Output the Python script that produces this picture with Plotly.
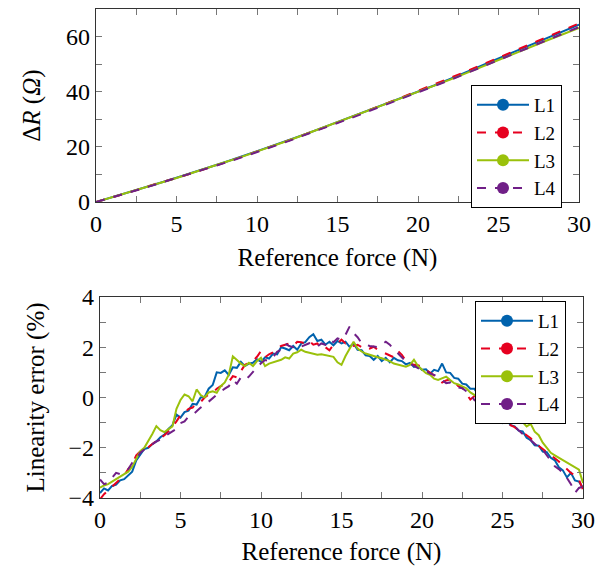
import plotly.graph_objects as go
import numpy as np

# top panel: delta R (Ohm) read every 1 N
force_top = list(range(0, 31))
dR_L1 = [0.0, 1.7, 3.5, 5.2, 7.0, 8.8, 10.6, 12.5, 14.4, 16.4,
         18.4, 20.4, 22.5, 24.6, 26.8, 29.0, 31.2, 33.4, 35.6, 37.8,
         40.0, 42.3, 44.7, 47.1, 49.6, 52.1, 54.6, 57.1, 59.6, 62.0, 64.4]
dR_L2 = [0.0, 1.6, 3.4, 5.2, 7.1, 8.7, 10.5, 12.5, 14.3, 16.3,
         18.3, 20.5, 22.4, 24.6, 26.6, 28.8, 31.1, 33.5, 35.7, 38.0,
         40.3, 42.6, 45.0, 47.4, 49.9, 52.4, 54.9, 57.4, 59.9, 62.4, 64.8]
dR_L3 = [0.0, 1.7, 3.5, 5.2, 7.0, 8.7, 10.6, 12.4, 14.4, 16.3,
         18.3, 20.4, 22.4, 24.6, 26.8, 28.9, 31.1, 33.3, 35.5, 37.6,
         39.8, 42.1, 44.4, 46.8, 49.2, 51.6, 54.0, 56.3, 58.6, 60.9, 63.2]
dR_L4 = [0.0, 1.6, 3.4, 5.1, 6.9, 8.6, 10.5, 12.3, 14.2, 16.1,
         18.1, 20.2, 22.2, 24.4, 26.5, 28.6, 30.8, 33.1, 35.3, 37.5,
         39.7, 42.0, 44.3, 46.7, 49.1, 51.6, 54.0, 56.5, 58.9, 61.2, 63.5]

# bottom panel: linearity error (%) read every 0.25 N
err_L1 = [-3.80, -3.62, -3.70, -3.52, -3.47, -3.30, -3.25, -3.08, -2.95, -2.50,
          -2.25, -2.05, -2.00, -1.85, -1.75, -1.58, -1.48, -1.25, -1.10, -0.68,
          -0.80, -0.58, -0.52, -0.25, -0.28, 0.00, 0.02, 0.35, 0.50, 1.00,
          0.98, 1.08, 0.90, 1.20, 1.18, 1.42, 1.25, 1.35, 1.38, 1.52,
          1.42, 1.60, 1.55, 1.75, 1.72, 2.00, 1.95, 1.88, 2.05, 1.90,
          2.15, 2.20, 2.40, 2.52, 2.25, 2.30, 2.10, 2.22, 2.08, 2.25,
          2.15, 2.22, 2.02, 2.15, 1.90, 1.88, 1.68, 1.65, 1.50, 1.65,
          1.45, 1.58, 1.40, 1.58, 1.48, 1.45, 1.32, 1.38, 1.22, 1.25,
          1.10, 1.12, 0.95, 1.10, 1.05, 1.35, 1.00, 0.98, 0.78, 0.75,
          0.55, 0.52, 0.35, 0.35, 0.10, 0.10, -0.12, -0.30, -0.75, -0.95,
          -1.02, -0.85, -1.10, -1.15, -1.32, -1.35, -1.60, -1.70, -1.90, -1.92,
          -2.15, -2.18, -2.40, -2.50, -2.78, -2.90, -3.18, -3.00, -3.30, -3.35,
          -3.60]
err_L2 = [-4.05, -3.85, -3.70, -3.55, -3.40, -3.25, -3.10, -2.85, -2.65, -2.30,
          -2.15, -2.05, -1.98, -1.85, -1.75, -1.62, -1.50, -1.35, -1.15, -0.95,
          -0.70, -0.62, -0.45, -0.40, -0.22, -0.18, 0.00, 0.12, 0.18, 0.35,
          0.45, 0.55, 0.62, 0.85, 0.80, 1.05, 1.30, 1.38, 1.45, 1.62,
          1.85, 1.60, 1.72, 1.80, 1.95, 2.05, 2.10, 2.15, 2.05, 2.22,
          2.20, 2.15, 2.25, 2.10, 2.15, 1.95, 2.00, 1.88, 2.10, 2.15,
          2.30, 2.15, 2.20, 2.05, 2.10, 2.00, 2.05, 1.95, 2.02, 1.90,
          1.82, 1.75, 1.65, 1.60, 1.85, 1.70, 1.45, 1.38, 1.30, 1.28,
          1.22, 1.10, 1.00, 0.88, 0.75, 0.60, 0.68, 0.72, 0.65, 0.45,
          0.40, 0.15, -0.08, 0.05, -0.02, -0.10, -0.25, -0.40, -0.55, -0.65,
          -0.80, -0.95, -1.10, -1.18, -1.30, -1.38, -1.50, -1.62, -1.80, -1.92,
          -2.05, -2.15, -2.30, -2.42, -2.55, -2.70, -2.88, -3.00, -3.10, -3.28,
          -3.67]
err_L3 = [-3.59, -3.50, -3.45, -3.35, -3.26, -3.15, -3.05, -2.95, -2.75, -2.45,
          -2.13, -2.00, -1.75, -1.45, -1.14, -1.30, -1.38, -1.25, -1.15, -0.45,
          -0.10, 0.12, 0.05, -0.15, 0.32, 0.10, 0.00, 0.20, 0.25, 0.19,
          0.45, 0.60, 0.91, 1.64, 1.50, 1.35, 1.25, 1.38, 1.25, 1.45,
          1.58, 1.25, 1.35, 1.40, 1.45, 1.50, 1.60, 1.55, 1.75, 1.80,
          1.90, 1.82, 1.78, 1.75, 1.70, 1.72, 1.68, 1.65, 1.62, 1.40,
          1.30, 1.65, 1.95, 2.22, 1.95, 1.83, 1.75, 1.70, 1.62, 1.60,
          1.56, 1.50, 1.45, 1.35, 1.30, 1.28, 1.23, 1.30, 1.50, 1.25,
          1.10, 0.97, 0.90, 0.75, 0.70, 0.78, 0.83, 0.70, 0.57, 0.52,
          0.45, 0.37, 0.20, 0.10, 0.00, -0.10, -0.20, -0.30, -0.40, -0.48,
          -0.55, -0.60, -0.68, -0.70, -0.85, -0.98, -1.15, -1.05, -1.36, -1.50,
          -1.80, -2.00, -2.20, -2.30, -2.40, -2.48, -2.60, -2.70, -2.80, -2.87,
          -3.40]
err_L4 = [-3.26, -3.45, -3.39, -3.20, -3.00, -3.05, -2.95, -2.86, -2.60, -2.45,
          -2.20, -2.07, -1.98, -1.85, -1.75, -1.68, -1.55, -1.45, -1.35, -1.25,
          -1.02, -0.95, -0.75, -0.69, -0.55, -0.40, -0.30, -0.16, -0.05, 0.10,
          0.24, 0.35, 0.45, 0.70, 0.55, 0.80, 0.70, 0.83, 1.03, 1.20,
          1.36, 1.49, 1.45, 1.60, 1.82, 1.90, 2.15, 2.05, 2.00, 2.10,
          2.03, 2.10, 2.16, 2.05, 2.03, 2.15, 2.10, 2.30, 2.20, 2.35,
          2.30, 2.50, 2.82, 2.56, 2.40, 2.16, 2.10, 2.05, 2.03, 2.00,
          2.10, 2.22, 2.10, 1.90, 1.76, 1.60, 1.43, 1.35, 1.25, 1.17,
          1.10, 1.05, 0.95, 0.90, 0.80, 0.70, 0.57, 0.60, 0.48, 0.40,
          0.37, 0.25, 0.15, -0.10, -0.20, -0.35, -0.45, -0.60, -0.75, -0.85,
          -0.90, -0.98, -1.02, -1.15, -1.30, -1.45, -1.55, -1.70, -1.85, -1.98,
          -2.08, -2.30, -2.50, -2.74, -2.85, -3.00, -3.20, -3.45, -3.80, -3.60,
          -3.54]

names = ["L1", "L2", "L3", "L4"]
colors = ["#0062AD", "#E6001F", "#9AC10B", "#701F87"]
dashes = ["solid", "dash", "solid", "dash"]
FONT = "Liberation Serif"
W, H = 615, 571
OFF = 8  # page body margin


def px_x(a, b):
    return [(a - OFF) / W, (b - OFF) / W]


def px_y(top, bottom):
    return [(H - (bottom - OFF)) / H, min(0.998, (H - (top - OFF)) / H)]


fig = go.Figure()

for name, vals, c, d in zip(names, [dR_L1, dR_L2, dR_L3, dR_L4], colors, dashes):
    fig.add_trace(go.Scatter(x=force_top, y=vals, mode="lines", showlegend=False,
                             line=dict(color=c, width=2, dash=d),
                             xaxis="x", yaxis="y"))
for name, vals, c, d in zip(names, [err_L1, err_L2, err_L3, err_L4], colors, dashes):
    f = np.linspace(0, 30, len(vals))
    fig.add_trace(go.Scatter(x=f, y=vals, mode="lines", showlegend=False,
                             line=dict(color=c, width=2, dash=d),
                             xaxis="x2", yaxis="y2"))

# legend entries (line + dot) for both panels
for leg, xa, ya in [("legend", "x", "y"), ("legend2", "x2", "y2")]:
    for name, c, d in zip(names, colors, dashes):
        fig.add_trace(go.Scatter(x=[None], y=[None], mode="lines+markers", name=name,
                                 line=dict(color=c, width=2, dash=d),
                                 marker=dict(color=c, size=12),
                                 legend=leg, xaxis=xa, yaxis=ya))

tickfont = dict(family=FONT, size=24, color="black")
titlefont = dict(family=FONT, size=25, color="black")
legfont = dict(family=FONT, size=19, color="black")
minor_t = dict(ticks="inside", ticklen=6, tickcolor="#777")


def ax(**kw):
    d = dict(showline=True, linecolor="#333", linewidth=1.2, mirror="ticks",
             ticks="inside", ticklen=6, tickcolor="#777", tickwidth=1,
             showgrid=False, zeroline=False, automargin=False, tickfont=tickfont)
    d.update(kw)
    return d


fig.update_layout(
    width=W, height=H,
    margin=dict(l=0, r=0, t=0, b=0, autoexpand=False),
    font=dict(family=FONT, color="black"),
    plot_bgcolor="white", paper_bgcolor="white",
    xaxis=ax(domain=px_x(96, 579), range=[0, 30], dtick=5,
             minor=dict(minor_t, dtick=2.5), anchor="y",
             title=dict(text="Reference force (N)", standoff=12, font=titlefont)),
    yaxis=ax(domain=px_y(1, 202), range=[0, 70], dtick=20,
             minor=dict(minor_t, dtick=10), anchor="x",
             title=dict(text="Δ<i>R</i> (<i>Ω</i>)", standoff=18, font=titlefont)),
    xaxis2=ax(domain=px_x(100, 583), range=[0, 30], dtick=5,
              minor=dict(minor_t, dtick=2.5), anchor="y2",
              title=dict(text="Reference force (N)", standoff=10, font=titlefont)),
    yaxis2=ax(domain=px_y(297, 498), range=[-4, 4], dtick=2,
              minor=dict(minor_t, dtick=1), anchor="x2",
              title=dict(text="Linearity error (%)", standoff=16, font=titlefont)),
    legend=dict(x=(471 - OFF) / W, y=(H - (85 - OFF)) / H, xanchor="left", yanchor="top",
                bgcolor="white", bordercolor="black", borderwidth=1, itemwidth=52,
                font=legfont, tracegroupgap=0),
    legend2=dict(x=(475 - OFF) / W, y=(H - (301 - OFF)) / H, xanchor="left", yanchor="top",
                 bgcolor="white", bordercolor="black", borderwidth=1, itemwidth=52,
                 font=legfont, tracegroupgap=0),
)

fig.write_html("out.html")
